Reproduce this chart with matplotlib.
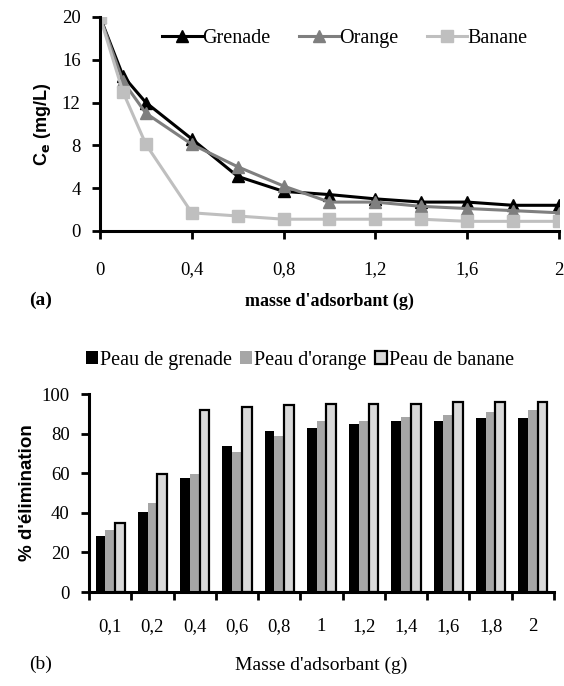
import matplotlib.pyplot as plt
import numpy as np

plt.rcParams['font.family'] = 'Liberation Serif'

# (a) concentration residuelle en fonction de la masse
masse = [0, 0.1, 0.2, 0.4, 0.6, 0.8, 1.0, 1.2, 1.4, 1.6, 1.8, 2.0]
ce_grenade = [20, 14.5, 12, 8.6, 5.1, 3.7, 3.4, 3.0, 2.7, 2.7, 2.4, 2.4]
ce_orange = [20, 14, 11, 8.1, 6.0, 4.2, 2.7, 2.7, 2.3, 2.1, 1.9, 1.7]
ce_banane = [20, 13, 8.1, 1.7, 1.4, 1.1, 1.1, 1.1, 1.1, 0.9, 0.9, 0.9]

# (b) pourcentage d'elimination
categories = ['0,1', '0,2', '0,4', '0,6', '0,8', '1', '1,2', '1,4', '1,6', '1,8', '2']
elim_grenade = [28.5, 40.5, 57.5, 73.6, 81.3, 82.8, 85.0, 86.6, 86.6, 88.0, 88.0]
elim_orange = [31.4, 44.8, 59.6, 70.9, 79.0, 86.6, 86.6, 88.6, 89.5, 91.0, 92.0]
elim_banane = [34.8, 59.8, 91.8, 93.3, 94.3, 95.0, 95.0, 95.0, 95.8, 95.8, 95.8]

fig = plt.figure(figsize=(5.64, 6.86), dpi=100)

ax1 = fig.add_axes([0.1773, 0.6633, 0.8138, 0.312])
ax1.plot(masse, ce_grenade, color='black', lw=2.2, marker='^', ms=8, label='Grenade')
ax1.plot(masse, ce_orange, color='#7f7f7f', lw=2.2, marker='^', ms=8, label='Orange')
ax1.plot(masse, ce_banane, color='#bfbfbf', lw=2.2, marker='s', ms=8, label='Banane')
ax1.set_xlim(0, 2)
ax1.set_ylim(0, 20)
ax1.set_xticks(np.arange(0, 2.01, 0.4))
ax1.set_xticklabels(['0', '0,4', '0,8', '1,2', '1,6', '2'])
ax1.set_yticks(range(0, 21, 4))
ax1.set_ylabel(r'C$_\mathbf{e}$ (mg/L)', fontsize=13, fontweight='bold',
               family='Liberation Sans', labelpad=6)
ax1.set_xlabel("masse d'adsorbant (g)", fontsize=13, fontweight='bold', labelpad=10)
ax1.legend(loc='upper right', bbox_to_anchor=(0.97, 1.03), ncol=3, frameon=False,
           fontsize=14.5, handlelength=2.0, handletextpad=0.0, columnspacing=1.4)
fig.text(0.052, 0.562, '(a)', fontsize=14, fontweight='bold', va='center')

ax2 = fig.add_axes([0.1578, 0.137, 0.8245, 0.2886])
x = np.arange(len(categories))
w = 0.23
ax2.bar(x - w, elim_grenade, w, color='black', label='Peau de grenade')
ax2.bar(x, elim_orange, w, color='#a6a6a6', label="Peau d'orange")
ax2.bar(x + w, elim_banane, w, color='#d9d9d9', edgecolor='black', lw=1.6,
        label='Peau de banane')
ax2.set_xlim(-0.5, len(categories) - 0.5)
ax2.set_ylim(0, 100)
ax2.set_yticks(range(0, 101, 20))
ax2.set_xticks(np.arange(-0.5, len(categories), 1.0))
ax2.set_xticklabels([])
ax2.set_xticks(x, minor=True)
ax2.set_xticklabels(categories, minor=True)
ax2.tick_params(axis='x', which='minor', length=0, pad=19, labelsize=13.5)
ax2.set_ylabel("% d'élimination", fontsize=13.5, fontweight='bold',
               family='Liberation Sans', labelpad=4)
ax2.set_xlabel("Masse d'adsorbant (g)", fontsize=14, labelpad=15)
ax2.legend(loc='lower left', bbox_to_anchor=(-0.045, 1.03), ncol=3, frameon=False,
           fontsize=14.5, handlelength=0.6, handleheight=0.6, handletextpad=0.1,
           columnspacing=0.4)
fig.text(0.052, 0.031, '(b)', fontsize=14, va='center')

for ax in (ax1, ax2):
    for side in ('top', 'right'):
        ax.spines[side].set_visible(False)
    for side in ('left', 'bottom'):
        ax.spines[side].set_linewidth(2.2)
    ax.tick_params(axis='both', which='major', direction='out', length=6, width=2,
                   labelsize=13.5)
    ax.tick_params(axis='y', pad=8)
ax1.tick_params(axis='x', pad=16)

fig.savefig('out.png', dpi=100)
